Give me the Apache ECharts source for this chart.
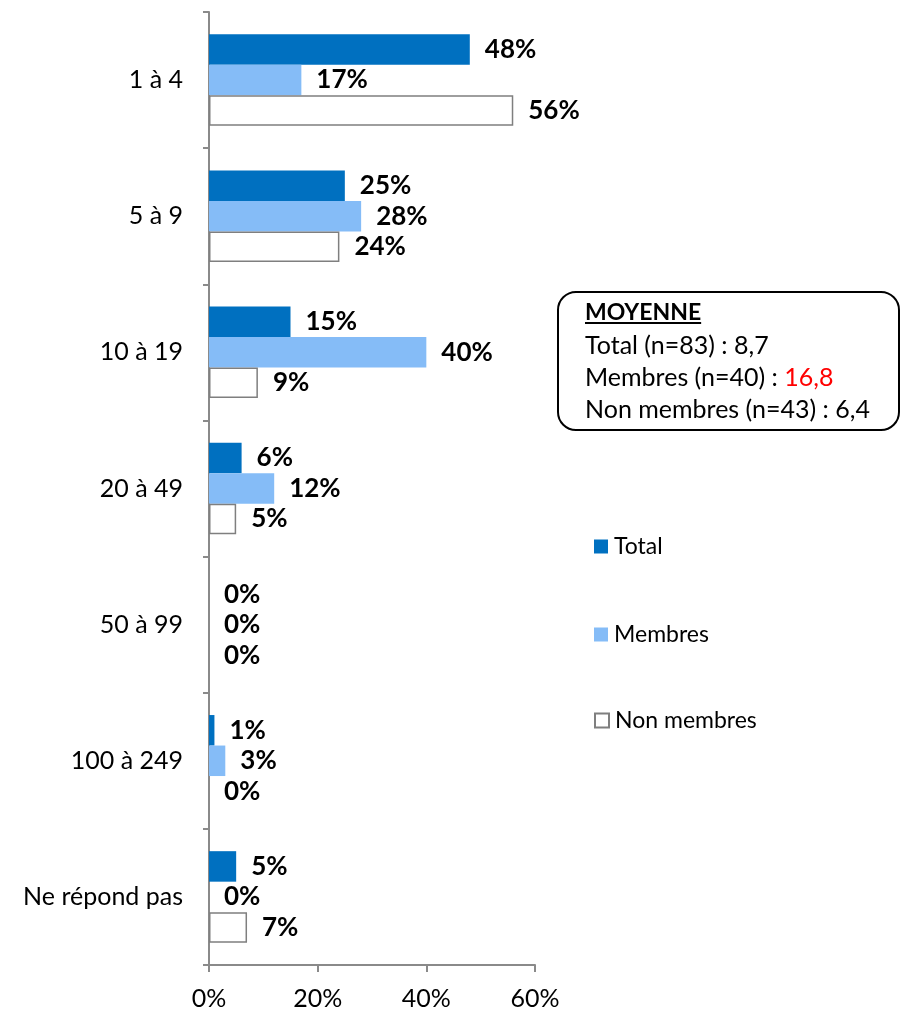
<!DOCTYPE html>
<html>
<head>
<meta charset="utf-8">
<script src="https://cdn.jsdelivr.net/npm/echarts@6/dist/echarts.min.js"></script>
<style>
  html, body { margin: 0; padding: 0; background: #fff; }
  #chart { width: 901px; height: 1015px; }
</style>
</head>
<body>
<div id="chart"></div>
<script>
// Size brackets (top to bottom)
const categories = ['1 à 4', '5 à 9', '10 à 19', '20 à 49', '50 à 99', '100 à 249', 'Ne répond pas'];
// Shares in percent
const totalValues = [48, 25, 15, 6, 0, 1, 5];
const membresValues = [17, 28, 40, 12, 0, 3, 0];
const nonMembresValues = [56, 24, 9, 5, 0, 0, 7];
const seriesNames = ['Total', 'Membres', 'Non membres'];
const xTicks = [0, 20, 40, 60];
// Averages box
const averageTitle = 'MOYENNE';
const averageLines = [
  { label: 'Total (n=83) : ', value: '8,7' },
  { label: 'Membres (n=40) : ', value: '16,8', highlight: true },
  { label: 'Non membres (n=43) : ', value: '6,4' }
];

const FONT = 'Lato, "Open Sans", sans-serif';
const AXIS_COLOR = '#8A8A8A';
const COLORS = ['#0070C0', '#85BCF7', '#FFFFFF'];

const chart = echarts.init(document.getElementById('chart'), null, { renderer: 'canvas' });

function measure(text, font) {
  const c = document.createElement('canvas').getContext('2d');
  c.font = font;
  return c.measureText(text).width;
}

const valueLabel = {
  show: true,
  position: 'right',
  distance: 15,
  formatter: p => p.value + '%',
  fontFamily: FONT,
  fontWeight: 'bold',
  fontSize: 26,
  color: '#000'
};

function barSeries(name, values, idx) {
  const base = {
    name: name,
    type: 'bar',
    barWidth: 30.5,
    barGap: '0%',
    label: valueLabel,
    itemStyle: { color: COLORS[idx] }
  };
  if (idx === 2) {
    base.itemStyle = { color: '#FFFFFF', borderColor: '#7F7F7F', borderWidth: 1.5 };
    base.data = values.map(v => v === 0 ? { value: v, itemStyle: { borderWidth: 0 } } : v);
  } else {
    base.data = values.slice();
  }
  return base;
}

const boxLeft = 558, boxTop = 292, boxW = 341, boxH = 138;
const textX = 585;
const boxFont = 25;
const titleFont = 'bold 23px ' + FONT;
const titleWidth = measure(averageTitle, titleFont);

const legendCommon = {
  orient: 'vertical',
  left: 594,
  padding: 0,
  icon: 'rect',
  itemWidth: 14,
  itemHeight: 14,
  itemGap: 0,
  selectedMode: false,
  textStyle: { fontFamily: FONT, fontSize: 23, color: '#000', padding: [0, 0, 0, 1] }
};

const option = {
  backgroundColor: '#fff',
  animation: false,
  grid: { left: 209, right: 366, top: 12, bottom: 50, containLabel: false },
  xAxis: {
    type: 'value',
    min: 0,
    max: 60,
    interval: 20,
    axisLine: { show: true, lineStyle: { color: AXIS_COLOR, width: 2 } },
    axisTick: { show: true, length: 7, lineStyle: { color: AXIS_COLOR, width: 2 } },
    splitLine: { show: false },
    axisLabel: {
      margin: 21,
      formatter: v => xTicks.includes(v) ? v + '%' : '',
      fontFamily: FONT,
      fontSize: 25,
      color: '#000'
    }
  },
  yAxis: {
    type: 'category',
    data: categories,
    inverse: true,
    axisLine: { show: true, lineStyle: { color: AXIS_COLOR, width: 2 } },
    axisTick: { show: true, length: 6, lineStyle: { color: AXIS_COLOR, width: 2 } },
    axisLabel: {
      margin: 26,
      fontFamily: FONT,
      fontSize: 25,
      color: '#000'
    }
  },
  legend: [
    Object.assign({}, legendCommon, { top: 535, data: [seriesNames[0]] }),
    Object.assign({}, legendCommon, { top: 623, data: [seriesNames[1]] }),
    Object.assign({}, legendCommon, { top: 709, data: [seriesNames[2]] })
  ],
  series: [
    barSeries(seriesNames[0], totalValues, 0),
    barSeries(seriesNames[1], membresValues, 1),
    barSeries(seriesNames[2], nonMembresValues, 2)
  ],
  graphic: [
    {
      type: 'rect',
      shape: { x: boxLeft, y: boxTop, width: boxW, height: boxH, r: 18 },
      style: { fill: '#fff', stroke: '#000', lineWidth: 2 },
      z: 10
    },
    {
      type: 'text',
      x: textX,
      y: 313,
      style: {
        text: averageTitle,
        font: titleFont,
        fill: '#000',
        verticalAlign: 'middle'
      },
      z: 11
    },
    {
      type: 'line',
      shape: { x1: textX, y1: 323, x2: textX + titleWidth, y2: 323 },
      style: { stroke: '#000', lineWidth: 2 },
      z: 11
    }
  ].concat(averageLines.map((ln, i) => ({
    type: 'text',
    x: textX,
    y: 346 + i * 32,
    style: {
      text: '{a|' + ln.label + '}{' + (ln.highlight ? 'r' : 'a') + '|' + ln.value + '}',
      verticalAlign: 'middle',
      rich: {
        a: { fontFamily: FONT, fontSize: boxFont, fill: '#000', color: '#000' },
        r: { fontFamily: FONT, fontSize: boxFont, fill: '#FF0000', color: '#FF0000' }
      }
    },
    z: 11
  })))
};

chart.setOption(option);
</script>
</body>
</html>
